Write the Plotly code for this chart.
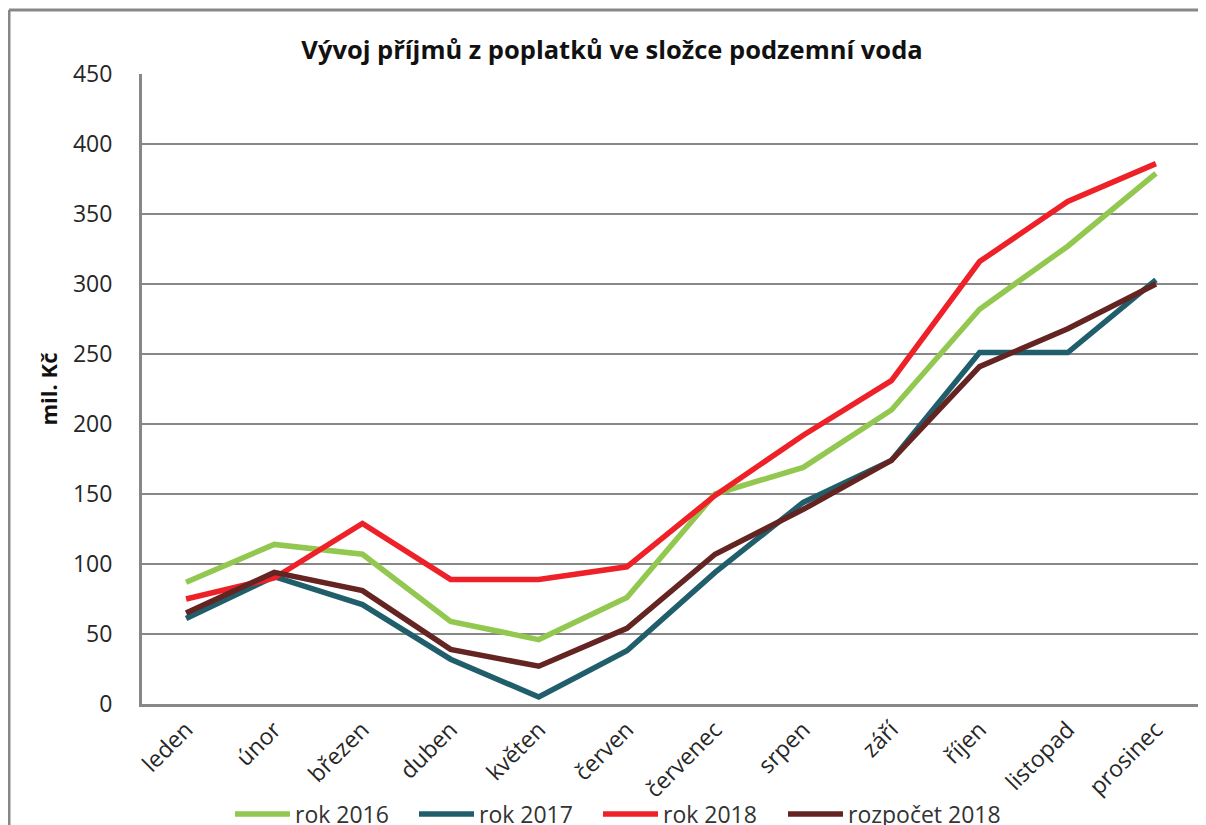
import plotly.graph_objects as go

months = ["leden", "únor", "březen", "duben", "květen", "červen", "červenec",
          "srpen", "září", "říjen", "listopad", "prosinec"]
rok_2016 = [87, 114, 107, 59, 46, 76, 150, 169, 210, 282, 327, 379]
rok_2017 = [61, 91, 71, 32, 5, 38, 94, 144, 174, 251, 251, 303]
rok_2018 = [75, 90, 129, 89, 89, 98, 149, 192, 231, 316, 359, 386]
rozpocet_2018 = [65, 94, 81, 39, 27, 54, 107, 139, 174, 241, 268, 300]
y_ticks = [0, 50, 100, 150, 200, 250, 300, 350, 400, 450]

series = [
    ("rok 2016", rok_2016, "#92C84F", "legend"),
    ("rok 2017", rok_2017, "#215E6B", "legend"),
    ("rok 2018", rok_2018, "#EE2128", "legend"),
    ("rozpočet 2018", rozpocet_2018, "#632422", "legend2"),
]

# page body has an 8px margin; figure sized to fit the 1206x825 window
W, H = 1198, 817
L, R, T, B = 134, 1192, 66, 696

FONT = "Open Sans"
fig = go.Figure()
for name, vals, col, lg in series:
    fig.add_trace(go.Scatter(x=months, y=vals, name=name, mode="lines", legend=lg,
                             line=dict(color=col, width=5.5)))

leg_y = (B - 806) / (B - T)
leg_common = dict(orientation="h", xanchor="left", y=leg_y, yanchor="middle",
                  font=dict(family=FONT, size=23, color="#333333"),
                  itemwidth=55, tracegroupgap=0, bgcolor="rgba(0,0,0,0)")

fig.update_layout(
    width=W, height=H,
    margin=dict(l=L, r=W - R, t=T, b=H - B, autoexpand=False),
    paper_bgcolor="white", plot_bgcolor="white",
    font=dict(family=FONT, size=23, color="#262626"),
    title=dict(text="<b>Vývoj příjmů z poplatků ve složce podzemní voda</b>",
               x=604 / W, xanchor="center", y=1 - 42 / H, yanchor="middle",
               font=dict(family=FONT, size=25.5, color="#111111")),
    showlegend=True,
    legend=dict(x=(222 - L) / (R - L), entrywidth=114, **leg_common),
    legend2=dict(x=(775 - L) / (R - L), **leg_common),
)
fig.update_xaxes(
    type="category", range=[-0.5, 11.5], tickangle=-45,
    showline=True, linecolor="#878787", linewidth=3,
    showgrid=False, ticks="", tickfont=dict(size=23, color="#262626"),
)
fig.update_yaxes(
    range=[0, 450], tickvals=y_ticks, showline=True, linecolor="#878787", linewidth=3,
    showgrid=True, gridcolor="#878787", gridwidth=2, ticks="", zeroline=False,
    tickfont=dict(size=23, color="#262626"), ticklabelstandoff=22,
    title=dict(text="<b>mil. Kč</b>", font=dict(size=22, color="#111111"), standoff=10),
)
# outer chart frame (left and top edges)
fx = (1 - L) / (R - L)
fy = (B - 2) / (B - T)
fig.add_shape(type="line", xref="paper", yref="paper",
              x0=fx, x1=1.2, y0=fy, y1=fy,
              line=dict(color="#878787", width=3))
fig.add_shape(type="line", xref="paper", yref="paper",
              x0=fx, x1=fx, y0=fy, y1=-0.3,
              line=dict(color="#878787", width=3))

fig.write_html("out.html")
